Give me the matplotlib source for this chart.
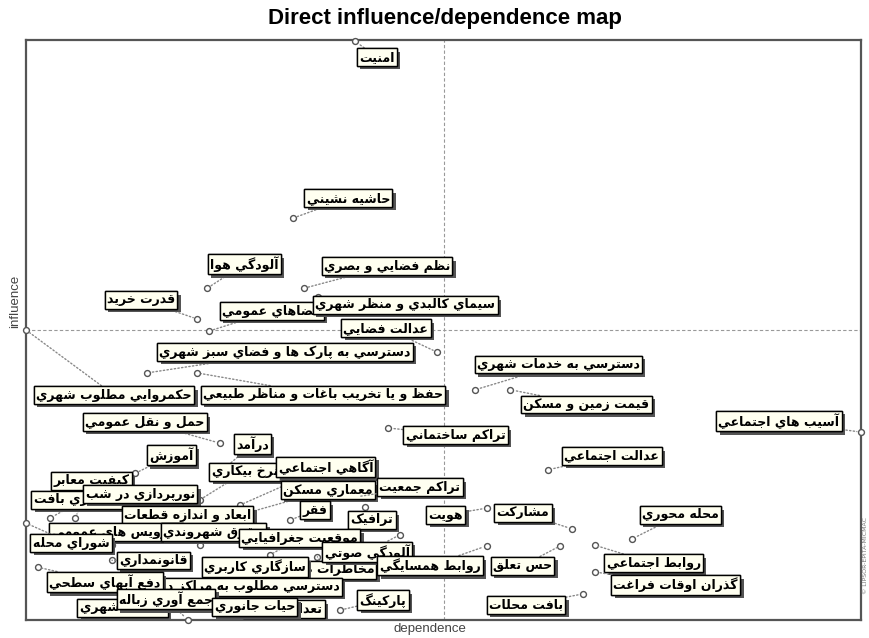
import matplotlib
matplotlib.use("Agg")
import matplotlib.pyplot as plt
import matplotlib.patheffects as pe

# MICMAC variables (Persian), dependence / influence on a 0-100 scale
variables = [
    "امنيت", "حاشيه نشيني", "آلودگي هوا", "نظم فضايي و بصري", "قدرت خريد",
    "فضاهاي عمومي", "سيماي کالبدي و منظر شهري", "عدالت فضايي",
    "دسترسي به پارک ها و فضاي سبز شهري", "حفظ و يا تخريب باغات و مناظر طبيعي",
    "حکمروايي مطلوب شهري", "حمل و نقل عمومي", "آموزش", "درآمد",
    "کيفيت معابر", "نفوذپذيري بافت", "نورپردازي در شب", "نرخ بيکاري",
    "آگاهي اجتماعي", "معماري مسکن", "تراکم جمعيت", "فقر", "ترافيک",
    "هويت", "مشارکت", "عدالت اجتماعي", "آسيب هاي اجتماعي",
    "دسترسي به خدمات شهري", "قيمت زمين و مسکن", "تراکم ساختماني",
    "ابعاد و اندازه قطعات", "سرويس هاي عمومي", "حقوق شهروندي", "شوراي محله",
    "موقعيت جغرافيايي", "مخاطرات طبيعي", "قانونمداري", "سازگاري کاربري",
    "آلودگي صوتي", "روابط همسايگي", "حس تعلق", "محله محوري",
    "روابط اجتماعي", "گذران اوقات فراغت", "دسترسي مطلوب به مراکز درماني",
    "دفع آبهاي سطحي", "مبلمان شهري", "جمع آوري زباله", "تعداد طبقات",
    "حيات جانوري", "پارکينگ", "بافت محلات",
]
dependence = [
    39.4, 32.0, 21.7, 33.3, 20.5, 21.9, 35.0, 49.2, 14.5, 20.5,
    0.0, 23.2, 13.1, 24.0, 5.9, 2.9, 11.3, 20.8, 25.6, 26.8,
    39.4, 31.6, 40.6, 55.2, 65.4, 62.5, 100.0, 53.8, 58.0, 43.4,
    17.2, 10.3, 20.8, 0.0, 29.2, 34.9, 10.3, 24.4, 44.8, 55.2,
    64.0, 72.6, 68.1, 68.1, 26.8, 1.4, 13.7, 19.4, 32.8, 28.0,
    37.6, 66.7,
]
influence = [
    99.8, 69.3, 57.2, 57.2, 51.9, 49.8, 55.7, 46.2, 42.6, 42.6,
    50.0, 30.5, 25.3, 26.4, 17.6, 17.6, 19.8, 20.7, 19.8, 18.6,
    21.2, 17.2, 19.5, 19.3, 15.7, 25.9, 32.4, 39.7, 39.7, 33.1,
    17.2, 12.9, 12.9, 16.7, 11.2, 10.9, 10.3, 6.9, 14.7, 12.8,
    12.8, 14.0, 12.9, 8.3, 5.2, 9.1, 1.4, 0.0, 0.9, 1.4,
    1.7, 4.5,
]

# label placement: offset of label centre from its point, in pixels
label_offsets = [
    (22, -16), (55, 20), (37, 24), (83, 22), (-56, 19),
    (63, 20), (87, -8), (-51, 24), (138, 21), (126, -22),
    (88, -65), (-75, 21), (36, 18), (26, 23),
    (16, 37), (33, 18), (20, 11), (45, 28),
    (86, 38), (78, 22), (65, 10), (25, 10), (7, -13),
    (-41, -7), (-49, 16), (64, 14), (-82, 11),
    (83, 25), (76, -15), (67, -7),
    (18, 5), (4, 13), (14, 13), (45, -20),
    (30, 17), (5, -13), (41, 0), (25, 13),
    (-33, -17), (-57, -20), (-38, -20), (48, 24),
    (59, -18), (81, -13), (-15, 3),
    (67, -15), (-18, 4), (-22, 21), (-16, 6),
    (-5, 5), (43, 10), (-57, -11),
]

# --- minimal Arabic/Persian shaping (matplotlib has no text shaping) ---
# letter: (isolated, final, initial, medial); right-joining letters have no initial/medial
FORMS = {
    'ء': (0xFE80, None, None, None), 'آ': (0xFE81, 0xFE82, None, None),
    'أ': (0xFE83, 0xFE84, None, None), 'ؤ': (0xFE85, 0xFE86, None, None),
    'ئ': (0xFE89, 0xFE8A, 0xFE8B, 0xFE8C), 'ا': (0xFE8D, 0xFE8E, None, None),
    'ب': (0xFE8F, 0xFE90, 0xFE91, 0xFE92), 'پ': (0xFB56, 0xFB57, 0xFB58, 0xFB59),
    'ت': (0xFE95, 0xFE96, 0xFE97, 0xFE98), 'ث': (0xFE99, 0xFE9A, 0xFE9B, 0xFE9C),
    'ج': (0xFE9D, 0xFE9E, 0xFE9F, 0xFEA0), 'چ': (0xFB7A, 0xFB7B, 0xFB7C, 0xFB7D),
    'ح': (0xFEA1, 0xFEA2, 0xFEA3, 0xFEA4), 'خ': (0xFEA5, 0xFEA6, 0xFEA7, 0xFEA8),
    'د': (0xFEA9, 0xFEAA, None, None), 'ذ': (0xFEAB, 0xFEAC, None, None),
    'ر': (0xFEAD, 0xFEAE, None, None), 'ز': (0xFEAF, 0xFEB0, None, None),
    'ژ': (0xFB8A, 0xFB8B, None, None),
    'س': (0xFEB1, 0xFEB2, 0xFEB3, 0xFEB4), 'ش': (0xFEB5, 0xFEB6, 0xFEB7, 0xFEB8),
    'ص': (0xFEB9, 0xFEBA, 0xFEBB, 0xFEBC), 'ض': (0xFEBD, 0xFEBE, 0xFEBF, 0xFEC0),
    'ط': (0xFEC1, 0xFEC2, 0xFEC3, 0xFEC4), 'ظ': (0xFEC5, 0xFEC6, 0xFEC7, 0xFEC8),
    'ع': (0xFEC9, 0xFECA, 0xFECB, 0xFECC), 'غ': (0xFECD, 0xFECE, 0xFECF, 0xFED0),
    'ف': (0xFED1, 0xFED2, 0xFED3, 0xFED4), 'ق': (0xFED5, 0xFED6, 0xFED7, 0xFED8),
    'ك': (0xFED9, 0xFEDA, 0xFEDB, 0xFEDC), 'ک': (0xFB8E, 0xFB8F, 0xFB90, 0xFB91),
    'گ': (0xFB92, 0xFB93, 0xFB94, 0xFB95), 'ل': (0xFEDD, 0xFEDE, 0xFEDF, 0xFEE0),
    'م': (0xFEE1, 0xFEE2, 0xFEE3, 0xFEE4), 'ن': (0xFEE5, 0xFEE6, 0xFEE7, 0xFEE8),
    'ه': (0xFEE9, 0xFEEA, 0xFEEB, 0xFEEC), 'و': (0xFEED, 0xFEEE, None, None),
    'ي': (0xFEF1, 0xFEF2, 0xFEF3, 0xFEF4), 'ی': (0xFBFC, 0xFBFD, 0xFBFE, 0xFBFF),
}


def shape(text):
    out = []
    for i, c in enumerate(text):
        if c not in FORMS:
            out.append(c)
            continue
        iso, fin, ini, med = FORMS[c]
        prev = text[i - 1] if i > 0 else ''
        nxt = text[i + 1] if i + 1 < len(text) else ''
        join_prev = prev in FORMS and FORMS[prev][2] is not None and fin is not None
        join_next = nxt in FORMS and FORMS[nxt][1] is not None and ini is not None
        if join_prev and join_next:
            code = med
        elif join_prev:
            code = fin
        elif join_next:
            code = ini
        else:
            code = iso
        out.append(chr(code))
    return ''.join(reversed(out))


fig = plt.figure(figsize=(8.69, 6.38), dpi=100)
ax = fig.add_axes([26 / 869, 18 / 638, 835 / 869, 580 / 638])
ax.set_xlim(0, 100)
ax.set_ylim(0, 100)
ax.set_xticks([])
ax.set_yticks([])
for sp in ax.spines.values():
    sp.set_color('#555555')
    sp.set_linewidth(1.6)

# crosshair at the means
ax.axvline(50, color='#999999', ls=(0, (3, 2)), lw=0.8, zorder=1)
ax.axhline(50, color='#999999', ls=(0, (3, 2)), lw=0.8, zorder=1)

ax.scatter(dependence, influence, s=18, facecolor='white', edgecolor='#555555',
           linewidth=1.0, zorder=3, clip_on=False)

shadow = [pe.withSimplePatchShadow(offset=(2.5, -2.5), shadow_rgbFace='#555555', alpha=1.0),
          pe.Normal()]

for i, (name, x, y, (dx, dy)) in enumerate(zip(variables, dependence, influence, label_offsets)):
    ann = ax.annotate(shape(name), (x, y), xytext=(dx, dy), textcoords='offset pixels',
                      ha='center', va='center', fontsize=9, fontweight='bold',
                      family=['DejaVu Sans'], color='black', zorder=10 + i,
                      bbox=dict(boxstyle='square,pad=0.18', fc='#fffff0', ec='black', lw=1.0),
                      arrowprops=dict(arrowstyle='-', ls=':', color='#888888', lw=1.0,
                                      shrinkA=0, shrinkB=3),
                      annotation_clip=False)
    ann.get_bbox_patch().set_path_effects(shadow)

fig.text(0.512, 0.971, 'Direct influence/dependence map', ha='center', va='center',
         fontsize=16, fontweight='bold', family='Liberation Sans')
ax.set_xlabel('dependence', fontsize=9.5, color='#444444', family='Liberation Sans')
ax.xaxis.set_label_coords(0.484, -0.006, transform=ax.transAxes)
ax.xaxis.label.set_va('top')
ax.set_ylabel('influence', fontsize=9.5, color='#444444', family='Liberation Sans')
ax.yaxis.set_label_coords(-0.006, 0.55, transform=ax.transAxes)
ax.yaxis.label.set_va('bottom')
fig.text(0.996, 0.13, '© LIPSOR-EPITA-MICMAC', rotation=90, ha='center', va='center',
         fontsize=4.5, color='#777777')

fig.savefig('out.png', dpi=100)
